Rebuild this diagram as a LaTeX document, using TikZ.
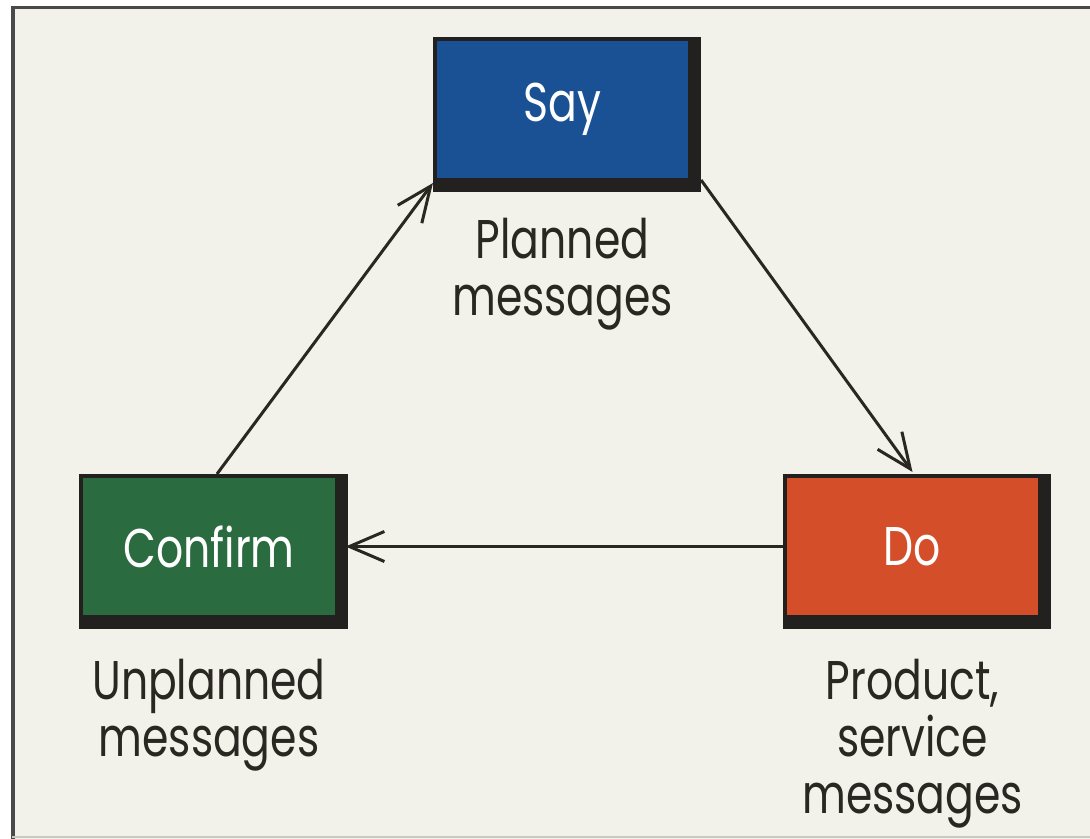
\documentclass[tikz,border=0pt]{standalone}
\usepackage{fontspec}
\setmainfont{Poppins}[FakeStretch=0.78]
\usepackage{xcolor}
\usetikzlibrary{arrows.meta,positioning,backgrounds}

\definecolor{paper}{HTML}{F2F1EA}
\definecolor{frameline}{HTML}{4A4A4A}
\definecolor{rimline}{HTML}{C9C9C4}
\definecolor{boxedge}{HTML}{222120}
\definecolor{sayblue}{HTML}{1A5194}
\definecolor{confirmgreen}{HTML}{2A6B40}
\definecolor{doorange}{HTML}{D34E29}
\definecolor{ink}{HTML}{2A2622}

\newcommand{\msgfont}{\fontsize{15.5}{16.2}\selectfont}

\tikzset{
  stage/.style={fill=#1,minimum width=2.51cm,minimum height=1.37cm,outer sep=0pt,
    text=white,font=\msgfont},
  note/.style={align=center,inner sep=0pt,outer sep=0pt,text=ink,font=\msgfont},
  flow/.style={line width=0.03cm,draw=ink,-{Straight Barb[length=0.35cm,width=0.3cm]}}
}

\begin{document}
\begin{tikzpicture}[x=0.01cm,y=-0.01cm]
\useasboundingbox (0,0) rectangle (1090,839);

% the three stages
\node[stage=sayblue] (say) at (562.5,109.5) {Say};
\node[stage=confirmgreen] (confirm) at (209,546.5) {Confirm};
\node[stage=doorange] (do) at (912.5,546.5) {Do};

\begin{scope}[on background layer]
% paper and frame
\fill[paper] (12,6) rectangle (1090,839);
\draw[frameline,line width=0.03cm] (13,839) -- (13,7) -- (1090,7);
\draw[rimline,line width=0.02cm] (12,837) -- (1090,837);
% dark rims, heavy on the lower right
\foreach \n in {say,confirm,do}
  \fill[boxedge] ([shift={(-4,-4)}]\n.north west) rectangle ([shift={(13,14)}]\n.south east);
\end{scope}

% captions
\node[note,below=0.40cm of say] (planned) {Planned\\messages};
\node[note,below=0.44cm of confirm] (unplanned) {Unplanned\\messages};
\node[note,below=0.44cm of do] (product) {Product,\\service\\messages};

% cycle
\draw[flow] ([shift={(8,-4)}]confirm.north) -- ([shift={(-4,5)}]say.south west);
\draw[flow] ([shift={(13,2)}]say.south east) -- ([shift={(0,-6)}]do.north);
\draw[flow] ([shift={(-4,0)}]do.west) -- ([shift={(11,0)}]confirm.east);
\end{tikzpicture}
\end{document}
